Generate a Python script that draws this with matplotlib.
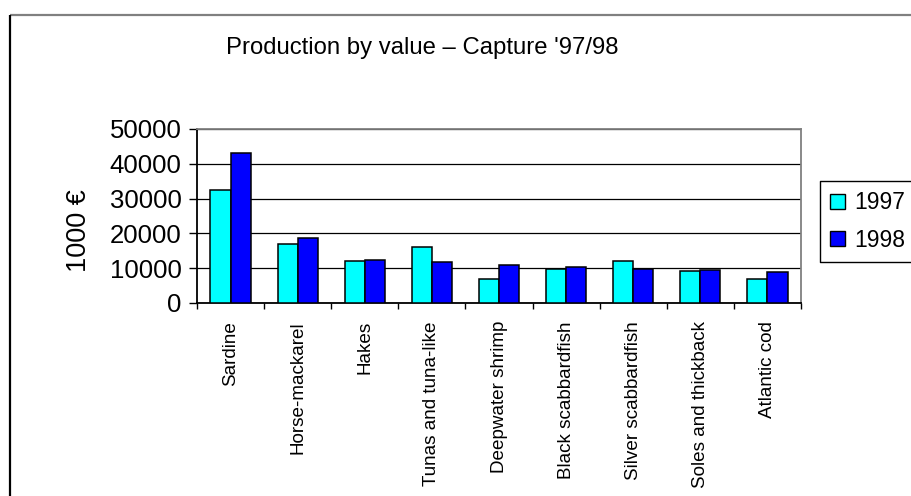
import matplotlib
matplotlib.use("Agg")
import matplotlib.pyplot as plt
from matplotlib.lines import Line2D
from matplotlib.patches import Patch
import numpy as np

plt.rcParams['font.family'] = ['Liberation Sans', 'DejaVu Sans']

# Data
species = ["Sardine", "Horse-mackarel", "Hakes", "Tunas and tuna-like",
           "Deepwater shrimp", "Black scabbardfish", "Silver scabbardfish",
           "Soles and thickback", "Atlantic cod"]
value_1997 = [32500, 17000, 12000, 16000, 6800, 9800, 12000, 9300, 6800]
value_1998 = [43000, 18700, 12500, 11900, 11000, 10300, 9800, 9400, 8800]
series_names = ["1997", "1998"]
y_ticks = [0, 10000, 20000, 30000, 40000, 50000]

W, H = 911, 496
fig = plt.figure(figsize=(W / 100, H / 100), dpi=100)
fig.patch.set_facecolor("white")

def fx(px):
    return px / W

def fy(py):
    return 1 - py / H

ax = fig.add_axes([fx(197), fy(303), fx(801) - fx(197), fy(129) - fy(303)])

x = np.arange(len(species))
bw = 0.3
colors = ["#00FFFF", "#0000FF"]
ax.bar(x - bw / 2, value_1997, width=bw, color=colors[0], edgecolor="black",
       linewidth=1.1, zorder=3)
ax.bar(x + bw / 2, value_1998, width=bw, color=colors[1], edgecolor="black",
       linewidth=1.1, zorder=3)

ax.set_xlim(-0.5, len(species) - 0.5)
ax.set_ylim(0, 50000)
ax.set_yticks(y_ticks)
ax.set_yticklabels([str(v) for v in y_ticks], fontsize=18.5)
ax.yaxis.grid(True, color="black", linewidth=0.9, zorder=0)
ax.set_axisbelow(True)

# category labels at centres, tick marks at boundaries
ax.set_xticks(x)
ax.set_xticklabels(species, rotation=90, fontsize=13.6, va="top")
ax.tick_params(axis="x", which="major", length=0, pad=13)
ax.set_xticks(np.arange(len(species) + 1) - 0.5, minor=True)
ax.tick_params(axis="x", which="minor", length=4, width=1.0, color="black")
ax.tick_params(axis="y", length=6, width=1.0, pad=5)

for side in ["left", "bottom"]:
    ax.spines[side].set_color("black")
    ax.spines[side].set_linewidth(1.3)
for side in ["top", "right"]:
    ax.spines[side].set_color("#808080")
    ax.spines[side].set_linewidth(1.3)

fig.text(fx(79), fy(231), "1000 €", rotation=90, ha="center", va="center",
         fontsize=19.5)
fig.text(fx(422.5), fy(48), "Production by value – Capture '97/98",
         ha="center", va="center", fontsize=17.2)

# legend entries; its box is open on the right, running off the canvas
handles = [Patch(facecolor=c, edgecolor="black", linewidth=1.0) for c in colors]
leg = fig.legend(handles, series_names, loc="upper left",
                 bbox_to_anchor=(fx(820), fy(181)), borderaxespad=0,
                 fontsize=16.5, handlelength=0.65, handleheight=0.65,
                 handletextpad=0.4, labelspacing=0.62, borderpad=0.45,
                 frameon=False)
edge = fx(910.5)
fig.add_artist(Line2D([edge, fx(820), fx(820), edge],
                      [fy(181), fy(181), fy(262), fy(262)],
                      color="black", linewidth=1.0, solid_capstyle="butt",
                      transform=fig.transFigure))

# chart area border
fig.add_artist(Line2D([fx(10), edge], [fy(15), fy(15)], color="#808080",
                      linewidth=1.6, solid_capstyle="butt",
                      transform=fig.transFigure))
fig.add_artist(Line2D([fx(10), fx(10)], [fy(15), fy(495.5)], color="black",
                      linewidth=1.6, solid_capstyle="butt",
                      transform=fig.transFigure))

fig.savefig("out.png", dpi=100, facecolor="white")
